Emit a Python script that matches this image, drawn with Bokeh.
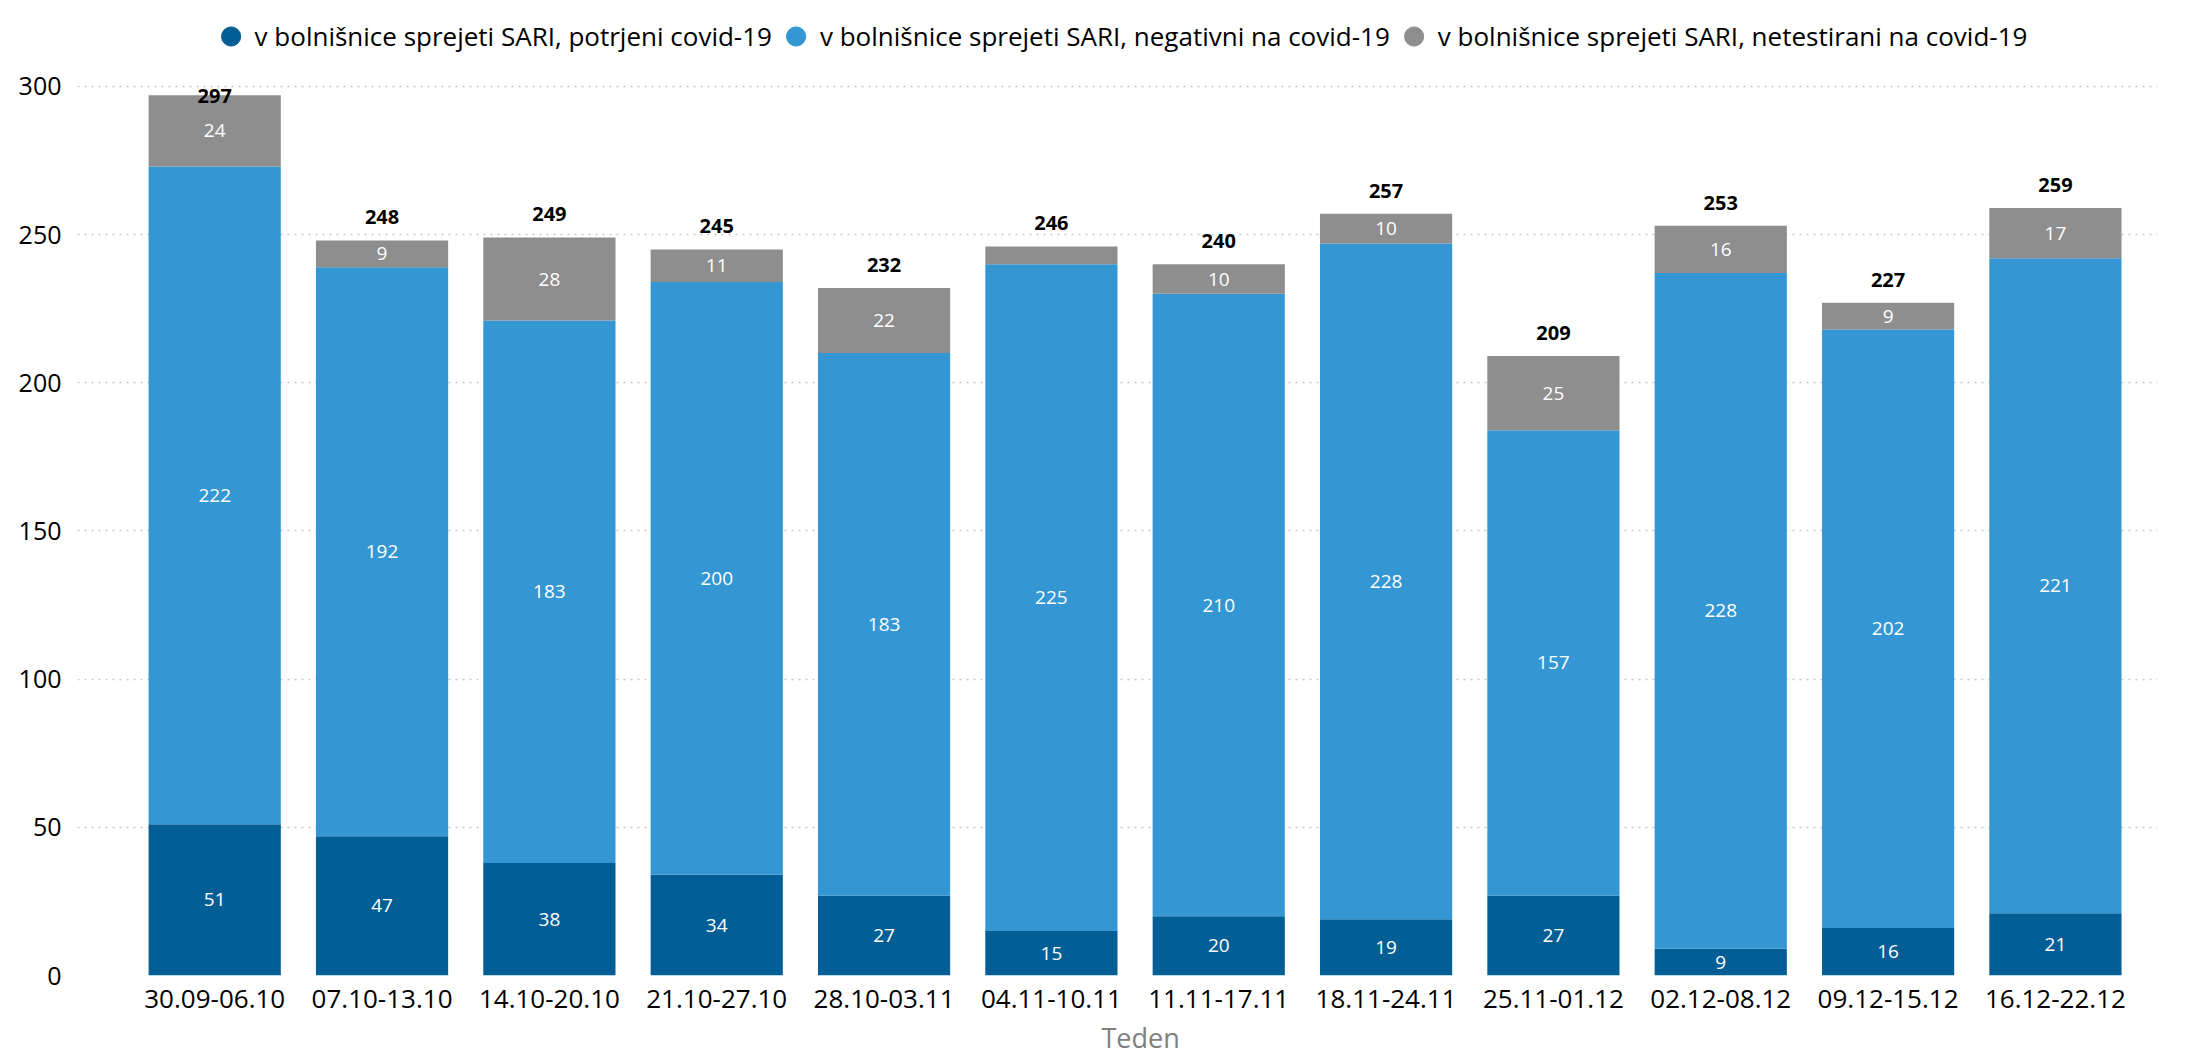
from bokeh.plotting import figure
from bokeh.models import ColumnDataSource, Range1d, FixedTicker, Legend, LegendItem, Title
from bokeh.core.properties import value
from bokeh.embed import file_html
from bokeh.resources import INLINE

weeks = ["30.09-06.10", "07.10-13.10", "14.10-20.10", "21.10-27.10", "28.10-03.11",
         "04.11-10.11", "11.11-17.11", "18.11-24.11", "25.11-01.12", "02.12-08.12",
         "09.12-15.12", "16.12-22.12"]
confirmed = [51, 47, 38, 34, 27, 15, 20, 19, 27, 9, 16, 21]
negative = [222, 192, 183, 200, 183, 225, 210, 228, 157, 228, 202, 221]
untested = [24, 9, 28, 11, 22, 6, 10, 10, 25, 16, 9, 17]
series_names = ["v bolnišnice sprejeti SARI, potrjeni covid-19",
                "v bolnišnice sprejeti SARI, negativni na covid-19",
                "v bolnišnice sprejeti SARI, netestirani na covid-19"]
colors = ["#035E96", "#3497D3", "#8E8E8E"]
y_ticks = [0, 50, 100, 150, 200, 250, 300]
x_title = "Teden"

FONT = "Open Sans"
xs = list(range(len(weeks)))
totals = [a + b + c for a, b, c in zip(confirmed, negative, untested)]

src = ColumnDataSource(dict(x=xs, confirmed=confirmed, negative=negative, untested=untested))

H = 1061
p = figure(width=2180, height=H, output_backend="svg", toolbar_location=None,
           x_range=Range1d(-0.82, 11.61), y_range=Range1d(0, 325.6),
           min_border_left=77, min_border_right=23, min_border_top=10, min_border_bottom=H - 976)
p.outline_line_color = None

p.vbar_stack(["confirmed", "negative", "untested"], x="x", width=0.79,
             source=src, color=colors, line_color=None)

# segment labels
lx, ly, lt = [], [], []
for i in xs:
    base = 0
    for v in (confirmed[i], negative[i], untested[i]):
        if v >= 8:
            lx.append(i)
            ly.append(base + v / 2)
            lt.append(str(v))
        base += v
p.text(x=lx, y=ly, text=lt, text_align="center", text_baseline="middle",
       text_color="white", text_font=value(FONT), text_font_size="19px")

# totals
ty = [min(t + 7.8, 296.6) for t in totals]
p.text(x=xs, y=ty, text=[str(t) for t in totals], text_align="center", text_baseline="middle",
       text_color="black", text_font=value(FONT), text_font_size="20px", text_font_style="bold")

# legend (hidden scatter renderers provide the circle markers)
markers = [p.scatter(x="x", y=col, source=src, marker="circle", color=c, visible=False)
           for col, c in zip(["confirmed", "negative", "untested"], colors)]
legend = Legend(items=[LegendItem(label=n, renderers=[m]) for n, m in zip(series_names, markers)],
                orientation="horizontal", location="top_center", margin=2, padding=0,
                glyph_width=48, glyph_height=48, label_standoff=-8, spacing=0,
                label_text_font=FONT, label_text_font_size="26px", label_text_color="black",
                label_text_baseline="middle",
                background_fill_alpha=0, border_line_color=None)
p.add_layout(legend)

# axis title
p.add_layout(Title(text=x_title, align="left", offset=1024, standoff=12,
                   text_font=FONT, text_font_size="27px", text_font_style="normal",
                   text_color="#7F7F7F"), "below")

# axes
p.xaxis.ticker = FixedTicker(ticks=xs)
p.xaxis.major_label_overrides = {i: w for i, w in zip(xs, weeks)}
p.xaxis.major_label_standoff = 8
p.xaxis.major_label_text_font_size = "26px"
p.yaxis.ticker = FixedTicker(ticks=y_ticks)
p.yaxis.major_label_standoff = 10
p.yaxis.major_label_text_font_size = "25px"
for ax in (p.xaxis, p.yaxis):
    ax.axis_line_color = None
    ax.major_tick_line_color = None
    ax.minor_tick_line_color = None
    ax.major_label_text_font = FONT
    ax.major_label_text_color = "black"

p.xgrid.grid_line_color = None
p.ygrid.grid_line_color = "#C8C8C8"
p.ygrid.grid_line_dash = "2 5"
p.ygrid.grid_line_width = 1.5

open("out.html", "w").write(file_html(p, INLINE))
